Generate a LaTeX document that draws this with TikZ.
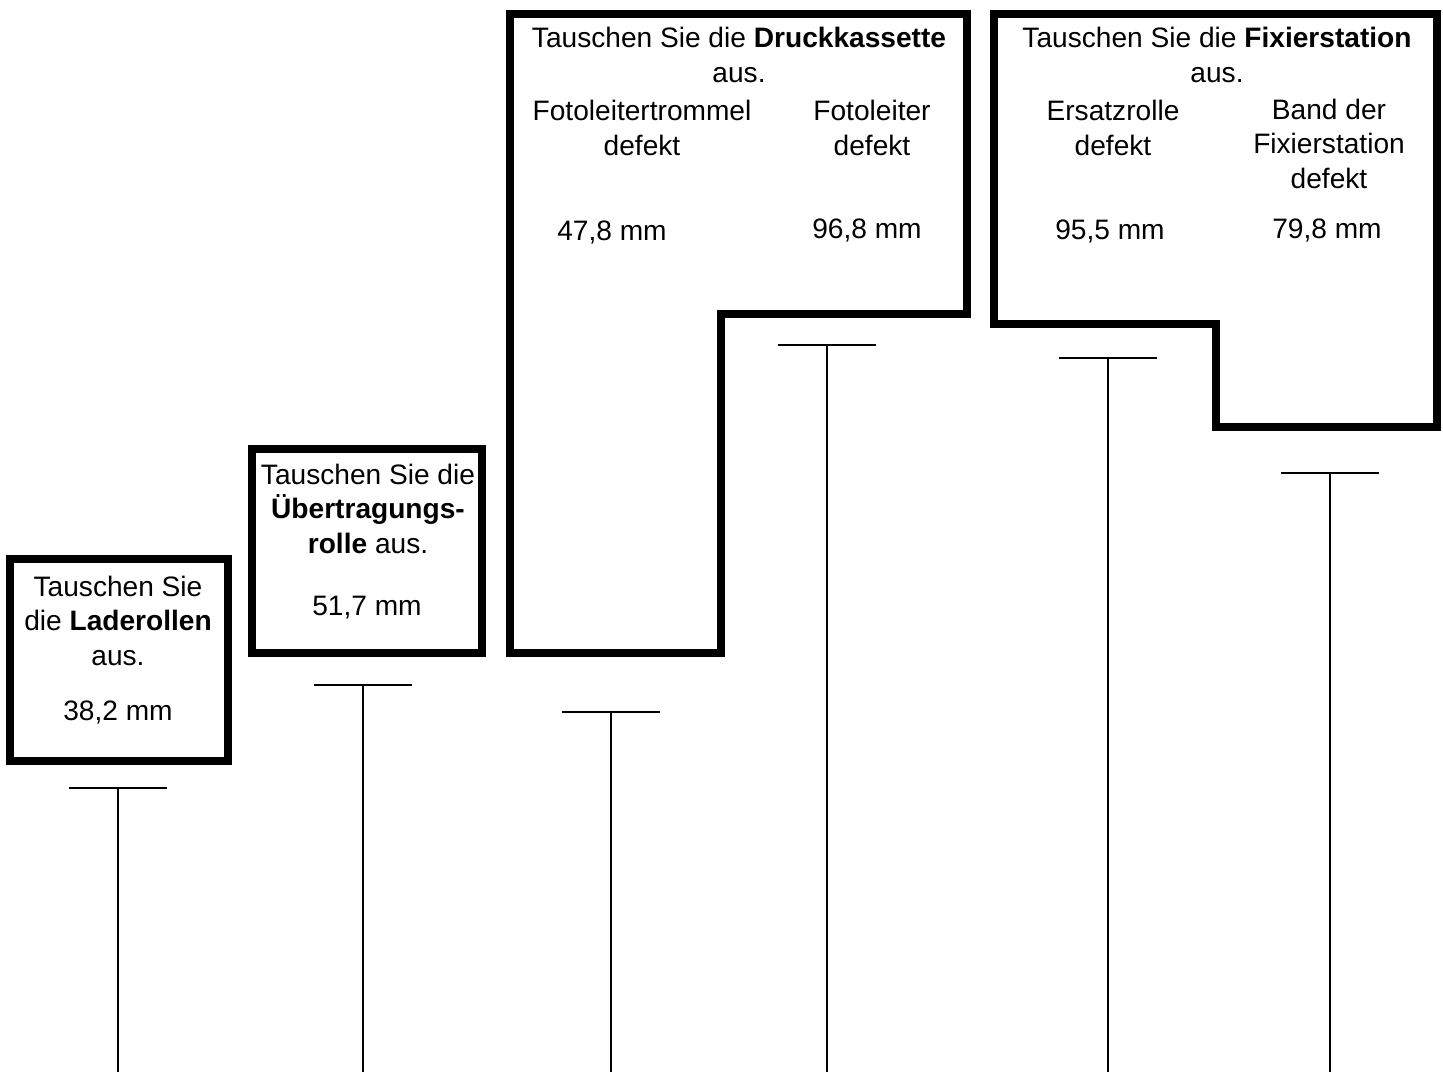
\documentclass[tikz,border=0pt]{standalone}
\usepackage{fontspec}
\setmainfont{Liberation Sans}
\usetikzlibrary{positioning}

\begin{document}
\begin{tikzpicture}[x=0.02cm,y=-0.02cm]
        \tikzstyle{every node}=[font=\fontsize{16}{19.5}\selectfont, align=center, inner sep=0pt, anchor=base]
        \tikzstyle{frame}=[line width=4.5pt, line join=miter]
        \tikzstyle{pin}=[line width=1.1pt]

        \useasboundingbox (0,0) rectangle (1443,1072);

        % Frames
        \draw[frame] (10,559) rectangle (228,761);
        \draw[frame] (252,449) rectangle (482,653);
        \draw[frame] (510,14) -- (967,14) -- (967,314) -- (721,314) -- (721,653) -- (510,653) -- cycle;
        \draw[frame] (994,14) -- (1437,14) -- (1437,427) -- (1216,427) -- (1216,324) -- (994,324) -- cycle;

        % Nodes (anchored at the baseline of the last line)
        \node (laderollen) at (118,665) {Tauschen Sie\\die \textbf{Laderollen}\\aus.};
        \node (laderollenmm) at (118,720) {38,2 mm};
        \node (rolle) at (368,553) {Tauschen Sie die\\\textbf{Übertragungs-}\\\textbf{rolle} aus.};
        \node (rollemm) at (367,615) {51,7 mm};
        \node (kassette) at (739,82) {Tauschen Sie die \textbf{Druckkassette}\\aus.};
        \node (trommel) at (642,155) {Fotoleitertrommel\\defekt};
        \node (fotoleiter) at (872,155) {Fotoleiter\\defekt};
        \node (trommelmm) at (612,240) {47,8 mm};
        \node (fotoleitermm) at (867,238) {96,8 mm};
        \node (fixierer) at (1217,82) {Tauschen Sie die \textbf{Fixierstation}\\aus.};
        \node (ersatz) at (1113,155) {Ersatzrolle\\defekt};
        \node (band) at (1329,188) {Band der\\Fixierstation\\defekt};
        \node (ersatzmm) at (1110,239) {95,5 mm};
        \node (bandmm) at (1327,238) {79,8 mm};

        % Marks
        \foreach \x/\y in {118/788, 363/685, 611/712, 827/345, 1108/358, 1330/473}
            \draw[pin] (\x-49,\y) -- (\x+49,\y) (\x,\y) -- (\x,1072);

\end{tikzpicture}
\end{document}
